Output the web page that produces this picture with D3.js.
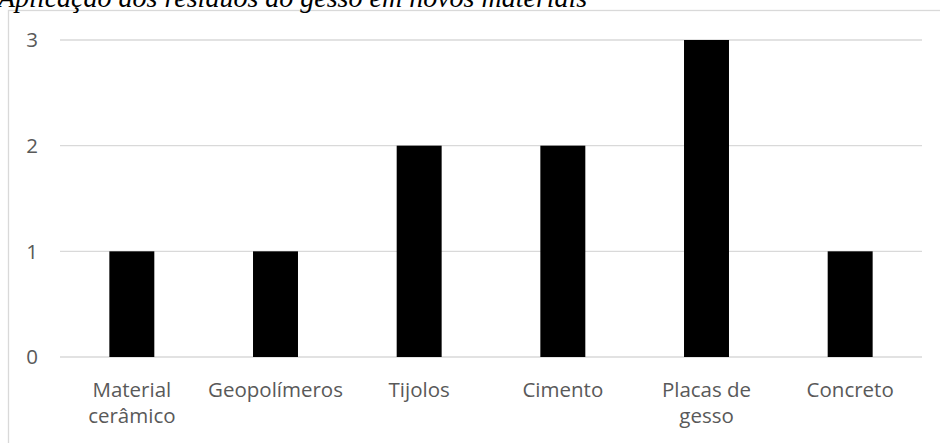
<!DOCTYPE html>
<html>
<head>
<meta charset="utf-8">
<script src="https://cdn.jsdelivr.net/npm/d3@7"></script>
<style>
  body { margin: 0; background: #fff; }
  svg { display: block; }
</style>
</head>
<body>
<svg id="chart" width="940" height="443"></svg>
<script>
const categories = [['Material', 'cerâmico'], ['Geopolímeros'], ['Tijolos'], ['Cimento'], ['Placas de', 'gesso'], ['Concreto']]
const values = [1, 1, 2, 2, 3, 1]
const yTicks = [0, 1, 2, 3]
const title = 'Aplicação dos resíduos do gesso em novos materiais'

const svg = d3.select('#chart')
const margin = {top: 40, right: 18, bottom: 86, left: 60}
const innerW = +svg.attr('width') - margin.left - margin.right
const innerH = +svg.attr('height') - margin.top - margin.bottom

// chart frame (cut off on right and bottom)
svg.append('rect')
   .attr('x', 8.5).attr('y', 10.5)
   .attr('width', 960).attr('height', 460)
   .attr('fill', 'none').attr('stroke', '#d9d9d9').attr('stroke-width', 1.3)

svg.append('text')
   .attr('x', -2).attr('y', 7)
   .attr('font-family', 'Liberation Serif, serif')
   .attr('font-style', 'italic')
   .attr('font-size', 28)
   .attr('fill', '#000')
   .text(title)

const g = svg.append('g').attr('transform', `translate(${margin.left},${margin.top})`)

const x = d3.scaleBand().domain(d3.range(categories.length)).range([0, innerW]).paddingInner(0.687).paddingOuter(0.3435)
const y = d3.scaleLinear().domain([0, 3]).range([innerH, 0])

// gridlines
g.selectAll('line.grid').data(yTicks).enter().append('line')
 .attr('class', 'grid')
 .attr('x1', 0).attr('x2', innerW)
 .attr('y1', d => y(d)).attr('y2', d => y(d))
 .attr('stroke', '#d9d9d9').attr('stroke-width', 1.3)

// y tick labels
g.selectAll('text.ytick').data(yTicks).enter().append('text')
 .attr('class', 'ytick')
 .attr('x', -22).attr('y', d => y(d))
 .attr('dy', '0.36em')
 .attr('text-anchor', 'end')
 .attr('font-family', 'Open Sans, sans-serif')
 .attr('font-size', 20.5)
 .attr('fill', '#595959')
 .text(d => d)

// bars
g.selectAll('rect.bar').data(values).enter().append('rect')
 .attr('class', 'bar')
 .attr('x', (d, i) => x(i))
 .attr('y', d => y(d))
 .attr('width', x.bandwidth())
 .attr('height', d => innerH - y(d))
 .attr('fill', '#000')

// category labels
const labels = g.selectAll('text.xlab').data(categories).enter().append('text')
 .attr('class', 'xlab')
 .attr('text-anchor', 'middle')
 .attr('font-family', 'Open Sans, sans-serif')
 .attr('font-size', 20.5)
 .attr('fill', '#595959')
 .attr('transform', (d, i) => `translate(${x(i) + x.bandwidth() / 2},${innerH + 40})`)

labels.selectAll('tspan').data(d => d).enter().append('tspan')
 .attr('x', 0)
 .attr('y', (d, i) => i * 26)
 .text(d => d)
</script>
</body>
</html>
